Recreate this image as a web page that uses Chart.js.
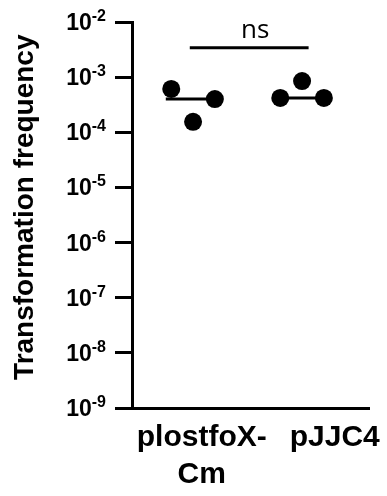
<!DOCTYPE html>
<html lang="en">
<head>
<meta charset="UTF-8" />
<title>Transformation frequency</title>
<script src="https://cdn.jsdelivr.net/npm/chart.js"></script>
<style>
    html, body { margin: 0; padding: 0; background: #fff; }
    #wrap { position: relative; width: 387px; height: 496px; }
</style>
</head>
<body>
<div id="wrap"><canvas id="chart"></canvas></div>
<script>
// data (3 replicates per strain)
const groupLabels = [['plostfoX-', 'Cm'], ['pJJC4']];
const plostfoxCm = [6.1e-4, 1.55e-4, 4.0e-4];
const pJJC4 = [4.2e-4, 8.5e-4, 4.2e-4];
const yExponents = [-9, -8, -7, -6, -5, -4, -3, -2];
const sigText = 'ns';
const sigLevel = 3.4e-3;

// layout helpers (x positions in category units)
const groupPos = [1, 2];
const jitter = [-0.2, 0, 0.2];
const labelPos = [1.08, 2.3];
const bracket = [0.97, 2.06];

const FONT = "'Liberation Sans', Arial, sans-serif";

function median(arr) {
    const s = [...arr].sort((a, b) => a - b);
    const m = Math.floor(s.length / 2);
    return s.length % 2 ? s[m] : (s[m - 1] + s[m]) / 2;
}

function dots(values, gi) {
    return values.map((v, i) => ({ x: groupPos[gi] + jitter[i], y: v }));
}

function medianLine(values, gi) {
    const m = median(values);
    return [{ x: groupPos[gi] - 0.25, y: m }, { x: groupPos[gi] + 0.25, y: m }];
}

const lineStyle = {
    type: 'line',
    borderColor: '#000',
    borderWidth: 3,
    pointRadius: 0,
    fill: false
};

// y tick labels: 10 with a superscript exponent
const powerTicks = {
    id: 'powerTicks',
    afterDraw(chart) {
        const ctx = chart.ctx;
        const y = chart.scales.y;
        ctx.save();
        ctx.fillStyle = '#000';
        ctx.textBaseline = 'alphabetic';
        ctx.textAlign = 'right';
        yExponents.forEach(e => {
            const py = y.getPixelForValue(Math.pow(10, e));
            const sup = String(e);
            const right = 106;
            ctx.font = 'bold 16px ' + FONT;
            const supW = ctx.measureText(sup).width;
            ctx.fillText(sup, right, py - 1);
            ctx.font = 'bold 23px ' + FONT;
            ctx.fillText('10', right - supW, py + 8);
        });
        ctx.restore();
    }
};

// "ns" above the comparison bar
const sigMark = {
    id: 'sigMark',
    afterDatasetsDraw(chart) {
        const ctx = chart.ctx;
        const xs = chart.scales.x, ys = chart.scales.y;
        const cx = (xs.getPixelForValue(bracket[0]) + xs.getPixelForValue(bracket[1])) / 2;
        const cy = ys.getPixelForValue(sigLevel);
        ctx.save();
        ctx.fillStyle = '#000';
        ctx.font = "26px 'Open Sans', sans-serif";
        ctx.textAlign = 'center';
        ctx.textBaseline = 'alphabetic';
        ctx.fillText(sigText, cx + 6, cy - 10);
        ctx.restore();
    }
};

new Chart(document.getElementById('chart'), {
    type: 'scatter',
    data: {
        datasets: [
            { data: dots(plostfoxCm, 0), backgroundColor: '#000', borderWidth: 0, pointRadius: 9 },
            { data: dots(pJJC4, 1), backgroundColor: '#000', borderWidth: 0, pointRadius: 9 },
            { ...lineStyle, data: medianLine(plostfoxCm, 0) },
            { ...lineStyle, data: medianLine(pJJC4, 1) },
            { ...lineStyle, data: [{ x: bracket[0], y: sigLevel }, { x: bracket[1], y: sigLevel }] }
        ]
    },
    options: {
        responsive: true,
        maintainAspectRatio: false,
        animation: false,
        layout: { padding: { top: 22, right: 18, left: 0, bottom: 0 } },
        plugins: {
            legend: { display: false },
            tooltip: { enabled: false }
        },
        scales: {
            x: {
                type: 'linear',
                min: 0.44,
                max: 2.614,
                afterBuildTicks: s => { s.ticks = labelPos.map(v => ({ value: v })); },
                afterFit: s => {
                    s.height = 88;
                    s.paddingLeft = 0;
                    s.paddingRight = 0;
                },
                ticks: {
                    autoSkip: false,
                    maxRotation: 0,
                    padding: 11,
                    color: '#000',
                    font: { family: FONT, size: 30, weight: 'bold', lineHeight: 1.23 },
                    callback: (v, i) => groupLabels[i]
                },
                grid: { display: false, drawTicks: false },
                border: { display: true, color: '#000', width: 3 }
            },
            y: {
                type: 'logarithmic',
                min: 1e-9,
                max: 1e-2,
                afterBuildTicks: s => { s.ticks = yExponents.map(e => ({ value: Math.pow(10, e) })); },
                afterFit: s => {
                    s.width = 132;
                    s.paddingTop = 0;
                    s.paddingBottom = 0;
                },
                ticks: { display: true, padding: 0, callback: () => '' },
                grid: {
                    display: true,
                    drawOnChartArea: false,
                    drawTicks: true,
                    tickLength: 17,
                    tickWidth: 3,
                    tickColor: '#000',
                    color: '#000'
                },
                border: { display: true, color: '#000', width: 3 },
                title: {
                    display: true,
                    text: '  Transformation frequency',
                    color: '#000',
                    font: { family: FONT, size: 28, weight: 'bold' },
                    padding: { top: 8, bottom: 0 }
                }
            }
        }
    },
    plugins: [powerTicks, sigMark]
});
</script>
</body>
</html>
